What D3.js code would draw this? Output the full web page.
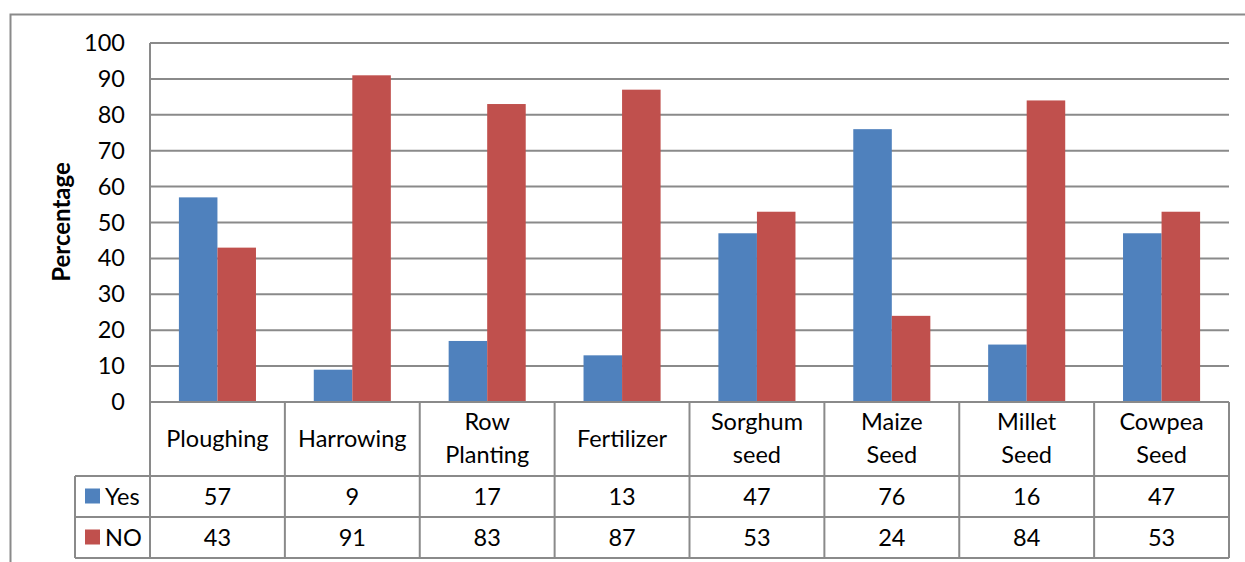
<!DOCTYPE html>
<html>
<head>
<meta charset="utf-8">
<script src="https://cdn.jsdelivr.net/npm/d3@7"></script>
<style>
  body { margin: 0; background: #fff; }
  svg { display: block; font-family: Lato, "Open Sans", sans-serif; }
</style>
</head>
<body>
<svg width="1245" height="562"></svg>
<script>
const categories = ["Ploughing", "Harrowing", "Row Planting", "Fertilizer", "Sorghum seed", "Maize Seed", "Millet Seed", "Cowpea Seed"];
const labelLines = [["Ploughing"], ["Harrowing"], ["Row", "Planting"], ["Fertilizer"], ["Sorghum", "seed"], ["Maize", "Seed"], ["Millet", "Seed"], ["Cowpea", "Seed"]];
const seriesNames = ["Yes", "NO"];
const yesValues = [57, 9, 17, 13, 47, 76, 16, 47];
const noValues = [43, 91, 83, 87, 53, 24, 84, 53];
const yTicks = [0, 10, 20, 30, 40, 50, 60, 70, 80, 90, 100];
const colors = ["#4F81BD", "#C0504D"];

const series = [yesValues, noValues];
const gridColor = "#8a8a8a";
const fontSize = 23.5;

const svg = d3.select("svg");

// outer chart border
svg.append("path")
    .attr("d", "M10.5,562 L10.5,14.5 L1245,14.5")
    .attr("fill", "none")
    .attr("stroke", gridColor)
    .attr("stroke-width", 2);

const plotLeft = 150, plotRight = 1229, plotTop = 43, plotBottom = 402;

const x = d3.scaleBand()
    .domain(categories)
    .range([plotLeft, plotRight]);

const y = d3.scaleLinear()
    .domain([0, 100])
    .range([plotBottom, plotTop]);

const xSub = d3.scaleBand()
    .domain(seriesNames)
    .range([0, x.bandwidth()])
    .paddingInner(0)
    .paddingOuter(0.75);

// gridlines
svg.append("g")
    .selectAll("line")
    .data(yTicks)
  .enter().append("line")
    .attr("x1", plotLeft)
    .attr("x2", plotRight)
    .attr("y1", d => y(d))
    .attr("y2", d => y(d))
    .attr("stroke", gridColor)
    .attr("stroke-width", 2);

// y axis line
svg.append("line")
    .attr("x1", plotLeft).attr("x2", plotLeft)
    .attr("y1", plotTop).attr("y2", plotBottom)
    .attr("stroke", gridColor)
    .attr("stroke-width", 2);

// y tick labels
svg.append("g")
    .selectAll("text")
    .data(yTicks)
  .enter().append("text")
    .attr("x", 125)
    .attr("y", d => y(d) + 8)
    .attr("text-anchor", "end")
    .attr("font-size", fontSize)
    .attr("fill", "#000")
    .text(d => d);

// y title
svg.append("text")
    .attr("transform", "translate(70,222) rotate(-90)")
    .attr("text-anchor", "middle")
    .attr("font-size", 24)
    .attr("font-weight", "bold")
    .text("Percentage");

// bars
series.forEach((vals, s) => {
    svg.append("g")
        .selectAll("rect")
        .data(vals)
      .enter().append("rect")
        .attr("x", (d, i) => x(categories[i]) + xSub(seriesNames[s]))
        .attr("y", d => y(d))
        .attr("width", xSub.bandwidth())
        .attr("height", d => y(0) - y(d))
        .attr("fill", colors[s]);
});

// data table
const headerBottom = 476, rowH = 41;
const tableLeft = 75;
const tableBottom = headerBottom + rowH * 2;
const tbl = svg.append("g")
    .attr("stroke", gridColor)
    .attr("stroke-width", 2);

// vertical lines of category columns
categories.forEach((c, i) => {
    tbl.append("line")
        .attr("x1", x(c)).attr("x2", x(c))
        .attr("y1", plotBottom).attr("y2", tableBottom);
});
tbl.append("line")
    .attr("x1", plotRight).attr("x2", plotRight)
    .attr("y1", plotBottom).attr("y2", tableBottom);
tbl.append("line")
    .attr("x1", tableLeft).attr("x2", tableLeft)
    .attr("y1", headerBottom).attr("y2", tableBottom);
// horizontal lines
[[plotLeft, plotBottom], [tableLeft, headerBottom], [tableLeft, headerBottom + rowH], [tableLeft, tableBottom]].forEach(p => {
    tbl.append("line")
        .attr("x1", p[0]).attr("x2", plotRight)
        .attr("y1", p[1]).attr("y2", p[1]);
});

// category labels
labelLines.forEach((lines, i) => {
    const cx = x(categories[i]) + x.bandwidth() / 2;
    const startY = lines.length === 1 ? 447 : 430;
    lines.forEach((t, j) => {
        svg.append("text")
            .attr("x", cx)
            .attr("y", startY + j * 33)
            .attr("text-anchor", "middle")
            .attr("font-size", fontSize)
            .text(t);
    });
});

// row values and legend keys
series.forEach((vals, s) => {
    const rowMid = headerBottom + rowH * s + rowH / 2;
    svg.append("rect")
        .attr("x", 85).attr("y", rowMid - 8)
        .attr("width", 15).attr("height", 15)
        .attr("fill", colors[s]);
    svg.append("text")
        .attr("x", 105).attr("y", rowMid + 8)
        .attr("font-size", fontSize)
        .text(seriesNames[s]);
    svg.append("g")
        .selectAll("text")
        .data(vals)
      .enter().append("text")
        .attr("x", (d, i) => x(categories[i]) + x.bandwidth() / 2)
        .attr("y", rowMid + 8)
        .attr("text-anchor", "middle")
        .attr("font-size", fontSize)
        .text(d => d);
});
</script>
</body>
</html>
